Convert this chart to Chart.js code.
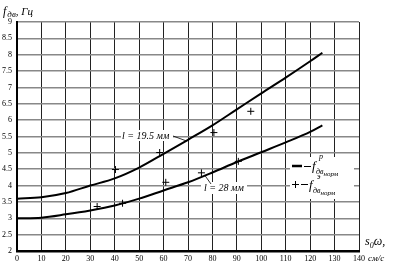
<!DOCTYPE html>
<html><head><meta charset="utf-8">
<style>html,body{margin:0;padding:0;background:#fff}#wrap{width:394px;height:269px;position:relative}</style>
<script src="https://cdn.jsdelivr.net/npm/chart.js@4.4.0/dist/chart.umd.min.js"></script>
</head><body><div id="wrap"><canvas id="c" width="394" height="269"></canvas></div>
<script>
// ---- data ----
const curveX   = [0, 10, 20, 30, 40, 50, 60, 70, 80, 90, 100, 110, 120, 125];
const curve195 = [3.6, 3.64, 3.77, 4.0, 4.22, 4.55, 4.97, 5.4, 5.84, 6.33, 6.82, 7.3, 7.8, 8.06];
const curve28  = [3.0, 3.02, 3.12, 3.24, 3.39, 3.6, 3.85, 4.1, 4.4, 4.72, 5.02, 5.32, 5.64, 5.84];
const exp195X  = [40.3, 58.4, 80.6, 95.7];
const exp195Y  = [4.49, 5.01, 5.62, 6.27];
const exp28X   = [32.8, 43.2, 60.9, 75.5, 90.6];
const exp28Y   = [3.36, 3.46, 4.1, 4.39, 4.74];
const xMin = 0, xMax = 140, xStep = 10;
const yMin = 2, yMax = 9, yStep = 0.5;
const yTitle = ['f', 'дв', ', Гц'];
const xTitle = ['s', '0', 'ω,', 'см/с'];
const label195 = 'l = 19.5 мм';
const label28 = 'l = 28 мм';
const legendSub = ['дв', 'норм'];
const legendSup = ['p', 'э'];

const zip = (xs, ys) => xs.map((x, i) => ({x, y: ys[i]}));
const SERIF = '"Liberation Serif", "DejaVu Serif", serif';

function it(ctx, txt, x, y, size) {
  ctx.font = `italic ${size}px ${SERIF}`;
  ctx.fillText(txt, x, y);
  return ctx.measureText(txt).width;
}

const annot = {
  id: 'annot',
  afterDraw(chart) {
    const ctx = chart.ctx;
    const xs = chart.scales.x, ys = chart.scales.y;
    ctx.save();
    ctx.fillStyle = '#000';
    ctx.strokeStyle = '#000';
    ctx.textBaseline = 'alphabetic';
    ctx.textAlign = 'left';
    // y title
    let x = 3;
    x += it(ctx, yTitle[0], x, 15, 12) + 1;
    x += it(ctx, yTitle[1], x, 17, 9);
    it(ctx, yTitle[2], x, 15, 11);
    // x title
    x = 365;
    x += it(ctx, xTitle[0], x, 245, 12);
    x += it(ctx, xTitle[1], x, 248, 8);
    it(ctx, xTitle[2], x, 245, 12);
    it(ctx, xTitle[3], 368, 261, 9);

    // label l = 19.5
    ctx.fillStyle = '#fff';
    ctx.fillRect(121, 130, 52, 11);
    ctx.fillStyle = '#000';
    it(ctx, label195, 122, 139, 10);
    ctx.lineWidth = 0.8;
    ctx.beginPath();
    ctx.moveTo(173, 136);
    ctx.lineTo(xs.getPixelForValue(69.5), ys.getPixelForValue(5.36));
    ctx.stroke();

    // label l = 28
    ctx.fillStyle = '#fff';
    ctx.fillRect(201, 182, 46, 12);
    ctx.fillStyle = '#000';
    it(ctx, label28, 204, 191, 10);
    ctx.beginPath();
    ctx.moveTo(211, 184);
    ctx.lineTo(xs.getPixelForValue(77), ys.getPixelForValue(4.3));
    ctx.stroke();

    // legend box
    ctx.fillStyle = '#fff';
    ctx.fillRect(290, 157, 64, 42);
    ctx.fillStyle = '#000';
    ctx.lineWidth = 2.5;
    ctx.beginPath(); ctx.moveTo(292, 166); ctx.lineTo(302, 166); ctx.stroke();
    ctx.lineWidth = 1;
    ctx.beginPath(); ctx.moveTo(304, 166.5); ctx.lineTo(311, 166.5); ctx.stroke();
    it(ctx, 'f', 312, 170, 13);
    it(ctx, legendSup[0], 319, 159, 8);
    x = 316; x += it(ctx, legendSub[0], x, 174, 8);
    it(ctx, legendSub[1], x, 176, 7);

    ctx.beginPath();
    ctx.moveTo(292, 184.5); ctx.lineTo(299, 184.5);
    ctx.moveTo(295.5, 181); ctx.lineTo(295.5, 188);
    ctx.moveTo(301, 184.5); ctx.lineTo(308, 184.5);
    ctx.stroke();
    it(ctx, 'f', 309, 189, 13);
    it(ctx, legendSup[1], 317, 179, 8);
    x = 313; x += it(ctx, legendSub[0], x, 193, 8);
    it(ctx, legendSub[1], x, 195, 7);
    ctx.restore();
  }
};

new Chart(document.getElementById('c'), {
  type: 'line',
  data: {
    datasets: [
      {data: zip(curveX, curve195), borderColor: '#000', borderWidth: 2, pointRadius: 0, cubicInterpolationMode: 'monotone', fill: false},
      {data: zip(curveX, curve28), borderColor: '#000', borderWidth: 2, pointRadius: 0, cubicInterpolationMode: 'monotone', fill: false},
      {data: zip(exp195X, exp195Y), showLine: false, pointStyle: 'cross', pointRadius: 3.5, pointBorderWidth: 1, borderColor: '#000', pointBorderColor: '#000'},
      {data: zip(exp28X, exp28Y), showLine: false, pointStyle: 'cross', pointRadius: 3.5, pointBorderWidth: 1, borderColor: '#000', pointBorderColor: '#000'}
    ]
  },
  options: {
    responsive: false,
    animation: false,
    devicePixelRatio: 1,
    layout: {padding: {top: 22, right: 35, left: 0, bottom: 0}},
    plugins: {legend: {display: false}, tooltip: {enabled: false}},
    scales: {
      x: {
        type: 'linear', min: xMin, max: xMax,
        afterFit: s => { s.height = 18; },
        ticks: {stepSize: xStep, color: '#000', padding: 3, maxRotation: 0, font: {size: 8, family: SERIF}},
        grid: {color: '#222', lineWidth: 1, drawTicks: false},
        border: {color: '#000', width: 2.5}
      },
      y: {
        type: 'linear', min: yMin, max: yMax,
        afterFit: s => { s.width = 17; },
        ticks: {stepSize: yStep, color: '#000', padding: 5, font: {size: 8, family: SERIF}, callback: v => String(v)},
        grid: {color: '#888', lineWidth: 1.5, drawTicks: false},
        border: {color: '#000', width: 2}
      }
    }
  },
  plugins: [annot]
});
</script></body></html>
